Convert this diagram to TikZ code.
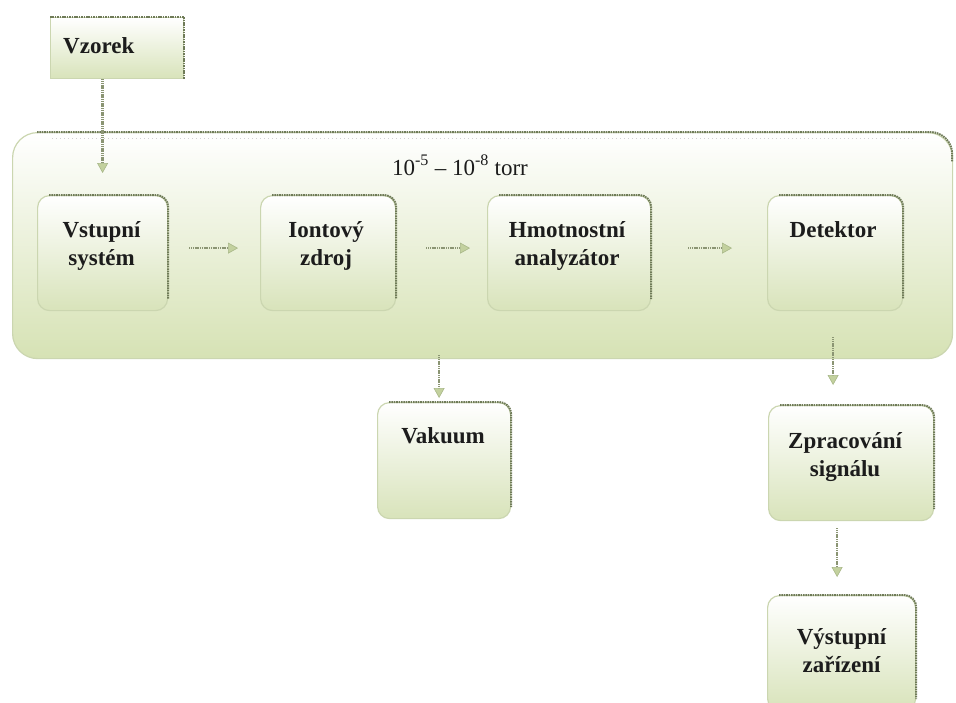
\documentclass[tikz,border=0pt]{standalone}
\usepackage{fontspec}
\setmainfont{Liberation Serif}
\usetikzlibrary{arrows.meta,calc}
\definecolor{gbot}{HTML}{D8E3BA}
\definecolor{cbot}{HTML}{D6E2B4}
\definecolor{edgedark}{HTML}{6F7B58}
\definecolor{edgelight}{HTML}{CBD6B0}
\definecolor{headfill}{HTML}{C3D19E}
\definecolor{headline}{HTML}{A9B889}
\definecolor{shaft}{HTML}{8B9573}
\definecolor{txt}{HTML}{1C1C1C}
\begin{document}
\begin{tikzpicture}[x=1pt,y=-1pt,
  box/.style={draw=edgelight, line width=1.2pt, rounded corners=12pt,
    top color=white, bottom color=gbot, inner sep=0pt, anchor=north west},
  sqbox/.style={box, rounded corners=0pt},
  lbl/.style={font=\bfseries\fontsize{23}{28}\selectfont, text=txt, align=center, inner sep=0pt, anchor=base},
  topedge/.style={draw=edgedark, line width=2pt, dash pattern=on 1.6pt off 0.8pt},
  arr/.style={draw=shaft, line width=2.4pt, dash pattern=on 1.2pt off 0.6pt,
    -{Triangle[length=10pt,width=11pt,color=headline,fill=headfill,line width=0.6pt]}}
]
\useasboundingbox (0,0) rectangle (956,702);
\clip (0,0) rectangle (956,702);

% container
\node[box, rounded corners=25pt, bottom color=cbot, minimum width=940pt, minimum height=226pt] (cont) at (12,132) {};
\draw[topedge, rounded corners=22pt] ([xshift=25pt]cont.north west) -- ([xshift=-1pt]cont.north east) -- ([xshift=-1pt,yshift=-30pt]cont.north east);
\draw[draw=black!18, line width=1pt, dash pattern=on 1pt off 3pt] ([xshift=40pt,yshift=-6pt]cont.north west) -- ([xshift=-40pt,yshift=-6pt]cont.north east);
\node[font=\fontsize{23}{28}\selectfont, text=txt, anchor=base, inner sep=0pt] (torr) at (460,175) {10\textsuperscript{-5} – 10\textsuperscript{-8} torr};

% boxes
\node[sqbox, minimum width=133pt, minimum height=61pt] (vz) at (50,17) {};
\node[box, minimum width=130pt, minimum height=115pt] (vs) at (37,195) {};
\node[box, minimum width=135pt, minimum height=115pt] (iz) at (260,195) {};
\node[box, minimum width=163pt, minimum height=115pt] (ha) at (487,195) {};
\node[box, minimum width=135pt, minimum height=115pt] (de) at (767,195) {};
\node[box, minimum width=133pt, minimum height=116pt] (vk) at (377,402) {};
\node[box, minimum width=165pt, minimum height=115pt] (zp) at (768,405) {};
\node[box, minimum width=148pt, minimum height=115pt] (vy) at (767,595) {};

% dark top/right edges
\draw[topedge] (vz.north west) -- (vz.north east) -- (vz.south east);
\foreach \n in {vs,iz,ha,de,vk,zp,vy}{
  \draw[topedge, rounded corners=12pt] ([xshift=12pt]\n.north west) -- (\n.north east) -- ([yshift=12pt]\n.south east);
}

% labels
\node[lbl, anchor=base west] (vz-t) at (63,53) {Vzorek};
\node[lbl] (vs-t) at ($(vs.north)+(-1,70)$) {Vstupní\\systém};
\node[lbl] (iz-t) at ($(iz.north)+(-2,70)$) {Iontový\\zdroj};
\node[lbl] (ha-t) at ($(ha.north)+(-2,70)$) {Hmotnostní\\analyzátor};
\node[lbl] (de-t) at ($(de.north)+(-2,42)$) {Detektor};
\node[lbl] (vk-t) at ($(vk.north)+(-1,41)$) {Vakuum};
\node[lbl] (zp-t) at ($(zp.north)+(-6,71)$) {Zpracování\\signálu};
\node[lbl] (vy-t) at ($(vy.north)+(0,77)$) {Výstupní\\zařízení};

% connectors
\draw[arr, shorten >=22pt] (vz.south -| vs.north) -- (vs.north);
\draw[arr, shorten <=21pt, shorten >=22pt] ([yshift=5pt]vs.east) -- ([yshift=5pt]iz.west);
\draw[arr, shorten <=30pt, shorten >=17pt] ([yshift=5pt]iz.east) -- ([yshift=5pt]ha.west);
\draw[arr, shorten <=37pt, shorten >=35pt] ([yshift=5pt]ha.east) -- ([yshift=5pt]de.west);
\draw[arr, shorten <=-4pt, shorten >=4pt] ([xshift=-5pt]vk.north |- cont.south) -- ([xshift=-5pt]vk.north);
\draw[arr, shorten <=26pt, shorten >=20pt] ([xshift=-2pt]de.south) -- ([xshift=-2pt]de.south |- zp.north);
\draw[arr, shorten <=7pt, shorten >=18pt] ([xshift=-14pt]zp.south) -- ([xshift=-14pt]zp.south |- vy.north);
\end{tikzpicture}
\end{document}
